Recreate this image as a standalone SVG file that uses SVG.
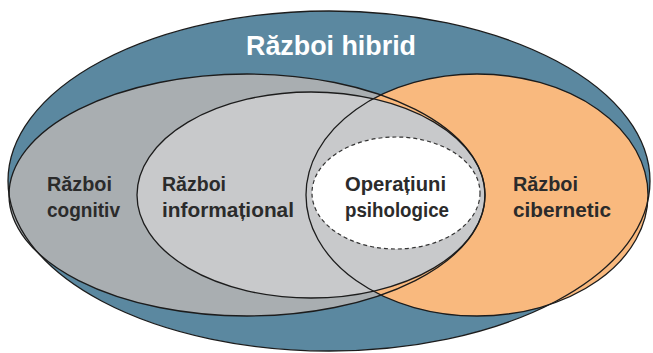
<svg xmlns="http://www.w3.org/2000/svg" width="653" height="353" viewBox="0 0 653 353">
<style>
.edge{fill:none;stroke:#1c1c1c;stroke-width:1.3}
.lbl{font-family:"Liberation Sans",Arial,sans-serif;font-weight:bold;font-size:21px;fill:#2b2b2b}
.title{font-family:"Liberation Sans",Arial,sans-serif;font-weight:bold;font-size:28px;fill:#ffffff}
</style>
<rect width="653" height="353" fill="#ffffff"/>
<g id="razboi-hibrid">
<ellipse cx="329" cy="181" rx="321" ry="170" fill="#5b88a0"/>
<text class="title" x="246" y="55" textLength="170" lengthAdjust="spacingAndGlyphs">Război hibrid</text>
</g>
<g id="razboi-cognitiv">
<ellipse cx="247" cy="195" rx="238" ry="121" fill="#a9aeb1"/>
<text class="lbl" x="47" y="191" textLength="65" lengthAdjust="spacingAndGlyphs">Război</text>
<text class="lbl" x="47" y="217" textLength="73" lengthAdjust="spacingAndGlyphs">cognitiv</text>
</g>
<g id="razboi-cibernetic">
<ellipse cx="477" cy="195" rx="171" ry="121" fill="#f9b97e"/>
<text class="lbl" x="513" y="191" textLength="65" lengthAdjust="spacingAndGlyphs">Război</text>
<text class="lbl" x="513" y="217" textLength="98" lengthAdjust="spacingAndGlyphs">cibernetic</text>
</g>
<g id="razboi-informational">
<ellipse cx="311" cy="195" rx="174" ry="103" fill="#c8c9cb"/>
<text class="lbl" x="162" y="191" textLength="64" lengthAdjust="spacingAndGlyphs">Război</text>
<text class="lbl" x="162" y="217" textLength="132" lengthAdjust="spacingAndGlyphs">informațional</text>
</g>
<g id="outlines">
<ellipse class="edge" cx="329" cy="181" rx="321" ry="170"/>
<ellipse class="edge" cx="247" cy="195" rx="238" ry="121"/>
<ellipse class="edge" cx="477" cy="195" rx="171" ry="121"/>
<ellipse class="edge" cx="311" cy="195" rx="174" ry="103"/>
</g>
<g id="operatiuni-psihologice">
<ellipse cx="396" cy="193" rx="84" ry="56" fill="#ffffff" stroke="#333333" stroke-width="1.2" stroke-dasharray="4 3"/>
<text class="lbl" x="345" y="191" textLength="101" lengthAdjust="spacingAndGlyphs">Operațiuni</text>
<text class="lbl" x="345" y="217" textLength="104" lengthAdjust="spacingAndGlyphs">psihologice</text>
</g>
</svg>
